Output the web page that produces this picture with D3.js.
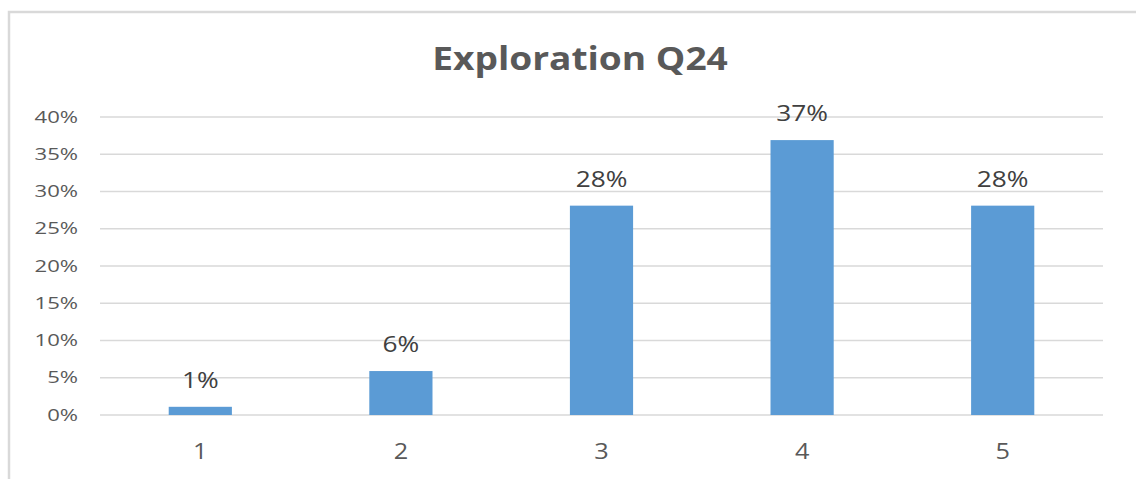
<!DOCTYPE html>
<meta charset="utf-8">
<style>
body { margin: 0; background: #fff; }
text { font-family: "Open Sans", "Noto Sans", sans-serif; }
</style>
<body>
<script src="https://cdn.jsdelivr.net/npm/d3@7"></script>
<script>
var categories = ["1", "2", "3", "4", "5"];
var values = [0.011, 0.059, 0.281, 0.369, 0.281];
var yTicks = [0, 0.05, 0.10, 0.15, 0.20, 0.25, 0.30, 0.35, 0.40];
var title = "Exploration Q24";

var width = 1136, height = 479;
var margin = {top: 117, right: 33, bottom: 64, left: 100};

var svg = d3.select("body").append("svg")
    .attr("width", width)
    .attr("height", height);

// chart frame (cropped on right and bottom)
svg.append("path")
    .attr("d", "M9," + height + "V12H" + width)
    .attr("fill", "none")
    .attr("stroke", "#d9d9d9")
    .attr("stroke-width", 2.5);

var x = d3.scaleBand()
    .domain(categories)
    .range([margin.left, width - margin.right])
    .paddingInner(0.685)
    .paddingOuter(0.3425);

var y = d3.scaleLinear()
    .domain([0, 0.40])
    .range([height - margin.bottom, margin.top]);

// the source picture is a bit stretched sideways, so text gets a horizontal scale
svg.append("text")
    .attr("transform", "translate(580,70) scale(1.16,1)")
    .attr("text-anchor", "middle")
    .attr("font-size", 32)
    .attr("font-weight", "bold")
    .attr("fill", "#595959")
    .text(title);

// gridlines
svg.append("g")
    .selectAll("line")
    .data(yTicks)
  .enter().append("line")
    .attr("x1", margin.left)
    .attr("x2", width - margin.right)
    .attr("y1", function(d) { return y(d); })
    .attr("y2", function(d) { return y(d); })
    .attr("stroke", "#d9d9d9")
    .attr("stroke-width", 1.3);

var yAxis = svg.append("g")
    .attr("transform", "translate(" + (margin.left - 22) + ",0)")
    .call(d3.axisLeft(y).tickValues(yTicks).tickFormat(d3.format(".0%")).tickSize(0).tickPadding(0));
yAxis.select(".domain").remove();
yAxis.selectAll("text")
    .attr("transform", "scale(1.38,1)")
    .attr("font-size", 16)
    .attr("fill", "#595959")
    .attr("font-family", "\"Open Sans\", sans-serif");

var xAxis = svg.append("g")
    .attr("transform", "translate(0," + (height - margin.bottom) + ")")
    .call(d3.axisBottom(x).tickSize(0).tickPadding(28));
xAxis.select(".domain").remove();
xAxis.selectAll("text")
    .attr("transform", "scale(1.15,1)")
    .attr("font-size", 22)
    .attr("fill", "#595959")
    .attr("font-family", "\"Open Sans\", sans-serif");

svg.append("g")
    .selectAll("rect")
    .data(values)
  .enter().append("rect")
    .attr("x", function(d, i) { return x(categories[i]); })
    .attr("y", function(d) { return y(d); })
    .attr("width", x.bandwidth())
    .attr("height", function(d) { return y(0) - y(d); })
    .attr("fill", "#5b9bd5");

svg.append("g")
    .selectAll("text")
    .data(values)
  .enter().append("text")
    .attr("transform", function(d, i) {
      return "translate(" + (x(categories[i]) + x.bandwidth() / 2) + "," + (y(d) - 19) + ") scale(1.25,1)";
    })
    .attr("text-anchor", "middle")
    .attr("font-size", 21)
    .attr("fill", "#404040")
    .text(function(d) { return Math.round(d * 100) + "%"; });
</script>
</body>
